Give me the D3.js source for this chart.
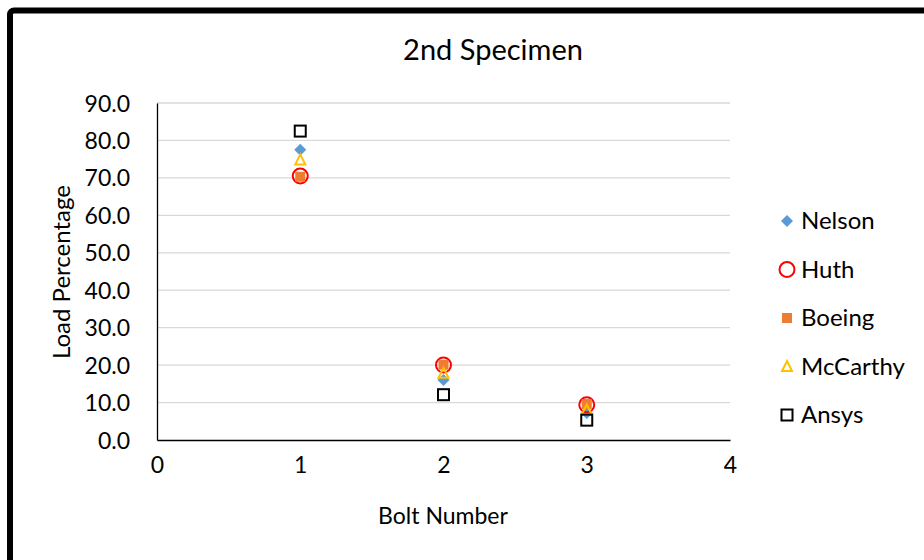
<!DOCTYPE html>
<html><head><meta charset="utf-8">
<script src="https://cdn.jsdelivr.net/npm/d3@7"></script>
<style>body{margin:0;background:#fff}svg{display:block}text{font-family:Lato,"Open Sans",sans-serif;fill:#000}</style>
</head><body><svg id="c" width="924" height="560"></svg>
<script>
const bolts = [1, 2, 3];
const nelson = [77.5, 16.0, 7.2];
const huth = [70.5, 20.0, 9.4];
const boeing = [70.3, 20.1, 9.6];
const mccarthy = [74.8, 17.8, 8.0];
const ansys = [82.5, 12.1, 5.3];
const yTicks = [0, 10, 20, 30, 40, 50, 60, 70, 80, 90];
const xTicks = [0, 1, 2, 3, 4];
const seriesNames = ["Nelson", "Huth", "Boeing", "McCarthy", "Ansys"];

const svg = d3.select("#c");
svg.append("rect").attr("x", 10).attr("y", 10.5).attr("width", 940).attr("height", 600)
  .attr("rx", 4).attr("fill", "#fff").attr("stroke", "#000").attr("stroke-width", 6);

const x = d3.scaleLinear().domain([0, 4]).range([157, 730]);
const y = d3.scaleLinear().domain([0, 90]).range([440, 103]);

svg.append("g").selectAll("line").data(yTicks.filter(d => d > 0)).join("line")
  .attr("x1", x(0)).attr("x2", x(4)).attr("y1", d => y(d)).attr("y2", d => y(d))
  .attr("stroke", "#d9d9d9").attr("stroke-width", 1.3);

const yAxis = svg.append("g").attr("transform", `translate(${x(0)},0)`)
  .call(d3.axisLeft(y).tickValues(yTicks).tickFormat(d3.format(".1f")).tickSize(0).tickPadding(27));
const xAxis = svg.append("g").attr("transform", `translate(0,${y(0)})`)
  .call(d3.axisBottom(x).tickValues(xTicks).tickFormat(d3.format("d")).tickSize(0).tickPadding(25));
[yAxis, xAxis].forEach(g => {
  g.select(".domain").attr("stroke", "#000").attr("stroke-width", 1.3);
  g.selectAll("text").style("font-size", "23px").style("font-family", "Lato, sans-serif");
});
yAxis.selectAll("text").attr("dy", "0.35em");
xAxis.selectAll("text").attr("dy", "0.35em");

svg.append("text").attr("x", 493).attr("y", 50).attr("dy", "0.35em").attr("text-anchor", "middle")
  .style("font-size", "29px").text("2nd Specimen");
svg.append("text").attr("x", 443).attr("y", 516).attr("dy", "0.35em").attr("text-anchor", "middle")
  .style("font-size", "23px").text("Bolt Number");
svg.append("text").attr("transform", "translate(62,272) rotate(-90)").attr("dy", "0.35em").attr("text-anchor", "middle")
  .style("font-size", "24px").text("Load Percentage");

const sym = {
  Nelson: (g) => g.append("path").attr("d", "M0,-6L6,0L0,6L-6,0Z").attr("fill", "#5B9BD5"),
  Huth: (g) => g.append("circle").attr("r", 7.5).attr("fill", "none").attr("stroke", "#FF0000").attr("stroke-width", 2),
  Boeing: (g) => g.append("rect").attr("x", -5).attr("y", -5).attr("width", 10).attr("height", 10).attr("fill", "#ED7D31"),
  McCarthy: (g) => g.append("path").attr("d", "M0,-5.5L5,4.5L-5,4.5Z").attr("fill", "none").attr("stroke", "#FFC000").attr("stroke-width", 2),
  Ansys: (g) => g.append("rect").attr("x", -5.5).attr("y", -5.5).attr("width", 11).attr("height", 11).attr("fill", "none").attr("stroke", "#000").attr("stroke-width", 2)
};
const data = { Nelson: nelson, Huth: huth, Boeing: boeing, McCarthy: mccarthy, Ansys: ansys };

seriesNames.forEach(name => {
  data[name].forEach((v, i) => {
    const g = svg.append("g").attr("transform", `translate(${x(bolts[i])},${y(v)})`);
    sym[name](g);
  });
});

const leg = svg.append("g");
seriesNames.forEach((name, i) => {
  const ly = 221 + i * 48.5;
  const g = leg.append("g").attr("transform", `translate(787,${ly})`);
  sym[name](g);
  leg.append("text").attr("x", 801).attr("y", ly).attr("dy", "0.35em")
    .style("font-size", "24px").text(name);
});
</script></body></html>
